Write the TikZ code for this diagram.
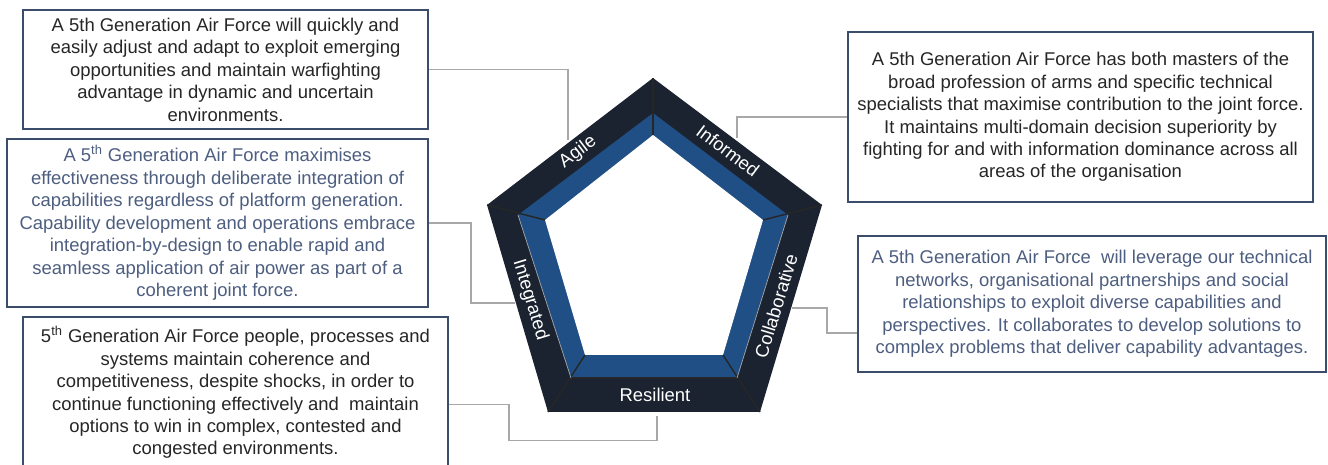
\documentclass[tikz,border=0pt]{standalone}
\usepackage{fontspec}
\setmainfont{Liberation Sans}
\usepackage{tikz}
\tikzset{>=latex}
\def\rescale{0.02}
\definecolor{bandnavy}{HTML}{1C2330}
\definecolor{bandblue}{HTML}{1F4F85}
\definecolor{boxline}{HTML}{3C4D6B}
\definecolor{textblue}{HTML}{4D5E80}
\definecolor{textdark}{HTML}{262626}
\definecolor{linkgray}{HTML}{A8A8A8}
\tikzset{
  infobox/.style={draw=boxline, line width=1.4pt, fill=white, align=center, inner sep=0pt,
    font=\fontsize{10.5}{12.8}\selectfont, text=textdark},
  bluetext/.style={text=textblue},
  link/.style={draw=linkgray, line width=0.9pt},
  sidelabel/.style={text=white, font=\fontsize{10.5}{12}\selectfont, inner sep=1pt},
  seam/.style={draw=black!85, line width=0.8pt}
}

\begin{document}
\begin{tikzpicture}[x=\rescale cm, y=-\rescale cm]
\useasboundingbox (0,0) rectangle (1328,465);

    % Pentagon bands
    \fill[bandnavy] (653,78) -- (822,205) -- (760,412) -- (548,412) -- (487,205) -- cycle;
    \fill[bandblue] (653,113) -- (788,215) -- (737,378) -- (571,378) -- (518,215) -- cycle;
    \fill[white] (653,135) -- (763,220) -- (723,355) -- (585,355) -- (545,220) -- cycle;

    % Seams
    \foreach \ox/\oy/\ix/\iy in {653/78/653/135, 822/205/763/220, 760/412/723/355, 548/412/585/355, 487/205/545/220}{
        \draw[seam] (\ox,\oy) -- (\ix,\iy);
    }
    \draw[seam] (571,378) -- (737,378);
    \draw[line width=0.4pt, gray!70] (518,215) -- (571,378);
    \draw[line width=0.4pt, gray!70] (788,215) -- (737,378);

    % Side labels
    \node[sidelabel, rotate=37] (agilelbl) at (578,152) {Agile};
    \node[sidelabel, rotate=-37] (informlbl) at (728,151) {Informed};
    \node[sidelabel, rotate=73] (collablbl) at (776,306) {Collaborative};
    \node[sidelabel, rotate=-73] (integlbl) at (530,300) {Integrated};
    \node[sidelabel] (resillbl) at (655,395) {Resilient};

    % Boxes
    \node[infobox, minimum width=8.1cm, minimum height=2.38cm] (agilebox) at (225.5,69.5)
      {A 5th Generation Air Force will quickly and\\
       easily adjust and adapt to exploit emerging\\
       opportunities and maintain warfighting\\
       advantage in dynamic and uncertain\\
       environments.};
    \node[infobox, bluetext, minimum width=8.42cm, minimum height=3.36cm] (integbox) at (217.5,223)
      {A 5\textsuperscript{th} Generation Air Force maximises\\
       effectiveness through deliberate integration of\\
       capabilities regardless of platform generation.\\
       Capability development and operations embrace\\
       integration-by-design to enable rapid and\\
       seamless application of air power as part of a\\
       coherent joint force.};
    \node[infobox, minimum width=8.5cm, minimum height=3.02cm] (resilbox) at (235.5,392.5)
      {5\textsuperscript{th} Generation Air Force people, processes and\\
       systems maintain coherence and\\
       competitiveness, despite shocks, in order to\\
       continue functioning effectively and \ maintain\\
       options to win in complex, contested and\\
       congested environments.};
    \node[infobox, minimum width=9.3cm, minimum height=3.4cm] (informbox) at (1080.5,117)
      {A 5th Generation Air Force has both masters of the\\
       broad profession of arms and specific technical\\
       specialists that maximise contribution to the joint force.\\
       It maintains multi-domain decision superiority by\\
       fighting for and with information dominance across all\\
       areas of the organisation};
    \node[infobox, bluetext, minimum width=9.36cm, minimum height=2.72cm] (collabbox) at (1092,304)
      {A 5th Generation Air Force \ will leverage our technical\\
       networks, organisational partnerships and social\\
       relationships to exploit diverse capabilities and\\
       perspectives. It collaborates to develop solutions to\\
       complex problems that deliver capability advantages.};

    % Connectors
    \coordinate (agilept) at (568,140);
    \coordinate (integpt) at (515,303);
    \coordinate (resilpt) at (657,416);
    \coordinate (informpt) at (737,138);
    \coordinate (collabpt) at (792,308);

    \draw[link] (agilebox.east) -| (agilept);
    \draw[link] (integbox.east) -- ++(42,0) |- (integpt);
    \draw[link] (resilbox.east) ++(0,12) -| ++(60,36) -| (resilpt);
    \draw[link] (informbox.west) -| (informpt);
    \draw[link] (collabpt) -- ++(35,0) |- (collabbox.west |- 0,333);

\end{tikzpicture}
\end{document}
